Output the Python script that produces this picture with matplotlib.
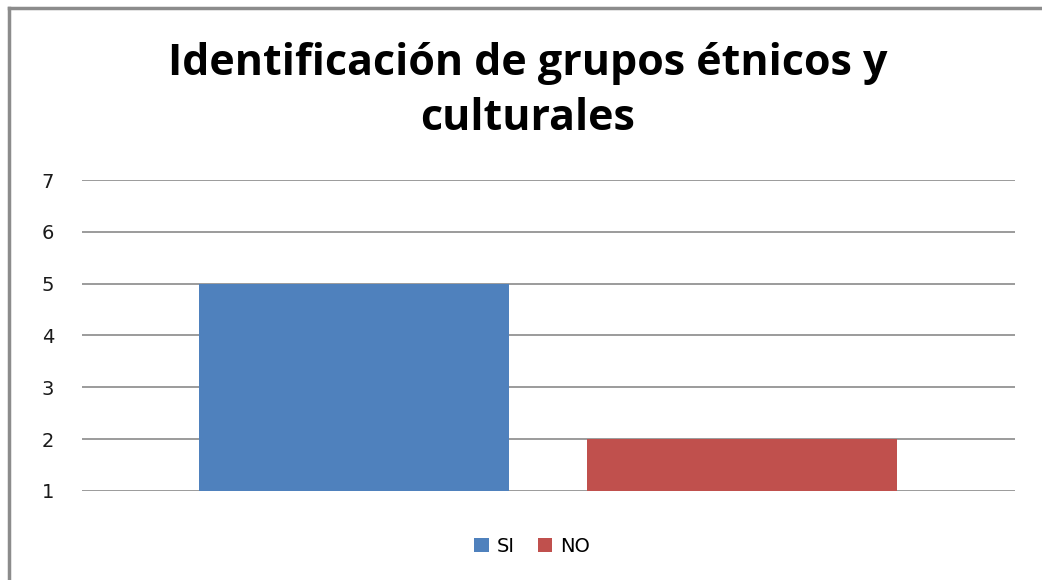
import matplotlib.pyplot as plt
from matplotlib.lines import Line2D
from matplotlib.patches import Patch

# survey answers
categories = ['SI', 'NO']
values = [5, 2]
colors = ['#4f81bd', '#c0504d']
baseline = 1
yticks = [1, 2, 3, 4, 5, 6, 7]

fig = plt.figure(figsize=(10.42, 5.80), dpi=100)
fig.patch.set_facecolor('white')

# outer frame (only top and left are inside the page)
fig.add_artist(Line2D([9/1042, 9/1042], [0, 1 - 8/580], transform=fig.transFigure,
                      color='#8c8c8c', lw=2.5))
fig.add_artist(Line2D([9/1042, 1], [1 - 8/580, 1 - 8/580], transform=fig.transFigure,
                      color='#8c8c8c', lw=2.5))

ax = fig.add_axes([82/1042, 1 - 491/580, (1015 - 82)/1042, (491 - 180)/580])

x = [0, 1]
ax.bar(x, [v - baseline for v in values], bottom=baseline, width=0.8,
       color=colors, zorder=3)

ax.set_ylim(1, 7)
ax.set_yticks(yticks)
ax.set_xlim(-0.701, 1.704)
ax.set_xticks([])
ax.yaxis.grid(True, color='#8a8a8a', lw=1.2)
ax.tick_params(axis='y', length=0, pad=20, labelsize=14, labelcolor='#1a1a1a')
for s in ax.spines.values():
    s.set_visible(False)

fig.text(528/1042, 1 - 91/580, 'Identificación de grupos étnicos y\nculturales',
         ha='center', va='center', fontsize=31, fontweight='bold',
         family='Open Sans', linespacing=1.38)

handles = [Patch(facecolor=c, label=l) for c, l in zip(colors, categories)]
fig.legend(handles=handles, loc='center', bbox_to_anchor=(532/1042, 1 - 546/580),
           ncol=2, frameon=False, fontsize=14, handlelength=0.75, handleheight=0.75,
           handletextpad=0.4, columnspacing=1.2)

fig.savefig('out.png', dpi=100)
